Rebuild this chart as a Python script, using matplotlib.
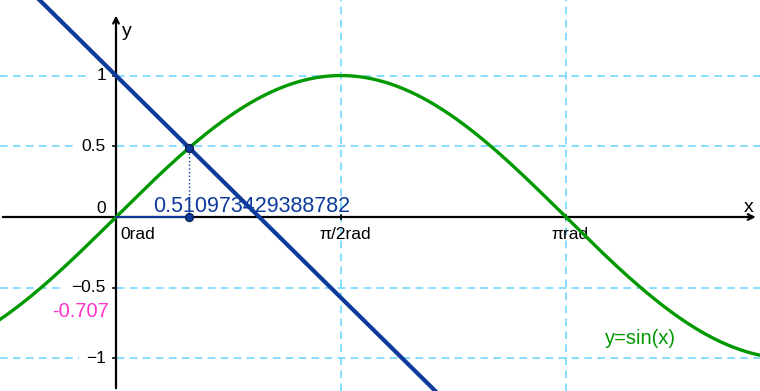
import numpy as np
import matplotlib.pyplot as plt

plt.rcParams['font.family'] = ['Liberation Sans', 'DejaVu Sans']

# data
x_min, x_max = -0.81, 4.497
y_min, y_max = -1.23, 1.534
x_ticks = [0, np.pi / 2, np.pi]
x_labels = ['0rad', 'π/2rad', 'πrad']
y_ticks = [-1, -0.5, 0, 0.5, 1]
y_labels = ['\u22121', '\u22120.5', '0', '0.5', '1']
line_slope, line_icpt = -1.0, 1.0
root_x = 0.510973429388782
marker_label = '-0.707'

green = '#009900'
blue = '#0d3b9c'
grid_c = '#66d4ff'

fig = plt.figure(figsize=(7.6, 3.91), dpi=100)
ax = fig.add_axes([0, 0, 1, 1])
ax.set_xlim(x_min, x_max)
ax.set_ylim(y_min, y_max)
ax.axis('off')

# grid
for t in x_ticks[1:]:
    ax.axvline(t, color=grid_c, lw=1.1, ls=(0, (5, 3.5)), zorder=1)
for t in y_ticks:
    if t != 0:
        ax.axhline(t, color=grid_c, lw=1.1, ls=(0, (5, 3.5)), zorder=1)

# axes with arrows
ax.annotate('', xy=(x_max - 0.01, 0), xytext=(x_min, 0),
            arrowprops=dict(arrowstyle='->', color='black', lw=1.6), zorder=3)
ax.annotate('', xy=(0, y_max - 0.09), xytext=(0, y_min),
            arrowprops=dict(arrowstyle='->', color='black', lw=1.6), zorder=3)
ax.text(0.04, 1.31, 'y', fontsize=14, ha='left', va='center')
ax.text(4.42, 0.07, 'x', fontsize=14, ha='center', va='center')

# tick labels
for t, lab in zip(y_ticks, y_labels):
    ax.plot([-0.02, 0], [t, t], color='black', lw=1.2, zorder=3)
    ax.text(-0.07, t + (0.06 if t == 0 else 0), lab, fontsize=12.5, ha='right', va='center',
            bbox=dict(facecolor='white', edgecolor='none', pad=5), zorder=2)
for t, lab in zip(x_ticks, x_labels):
    ax.plot([t, t], [-0.015, 0.015], color='black', lw=1.2, zorder=3)
    ax.text(t + 0.03, -0.07, lab, fontsize=12.5, ha='left' if t == 0 else 'center',
            va='top', zorder=2)

# curves
xs = np.linspace(x_min, x_max, 600)
ax.plot(xs, np.sin(xs), color=green, lw=2.4, zorder=4)
ax.plot(xs, line_slope * xs + line_icpt, color=blue, lw=3, zorder=5)

# intersection construction
ax.plot([0, root_x], [0, 0], color=blue, lw=1.5, zorder=4)
ax.plot([root_x, root_x], [0, np.sin(root_x)], color=blue, lw=1, ls=':', zorder=4)
ax.scatter([root_x, root_x], [0, np.sin(root_x)], s=32, color=blue,
           edgecolor='#0a1f55', zorder=6)
ax.text(0.26, 0.075, f'{root_x:.15f}', fontsize=15.5, color=blue, ha='left', va='center', zorder=6)

ax.text(-0.05, -0.67, marker_label, fontsize=14.5, color='#ff33cc', ha='right', va='center')
ax.text(3.66, -0.86, 'y=sin(x)', fontsize=14.5, color=green, ha='center', va='center')

fig.savefig('out.png', dpi=100)
